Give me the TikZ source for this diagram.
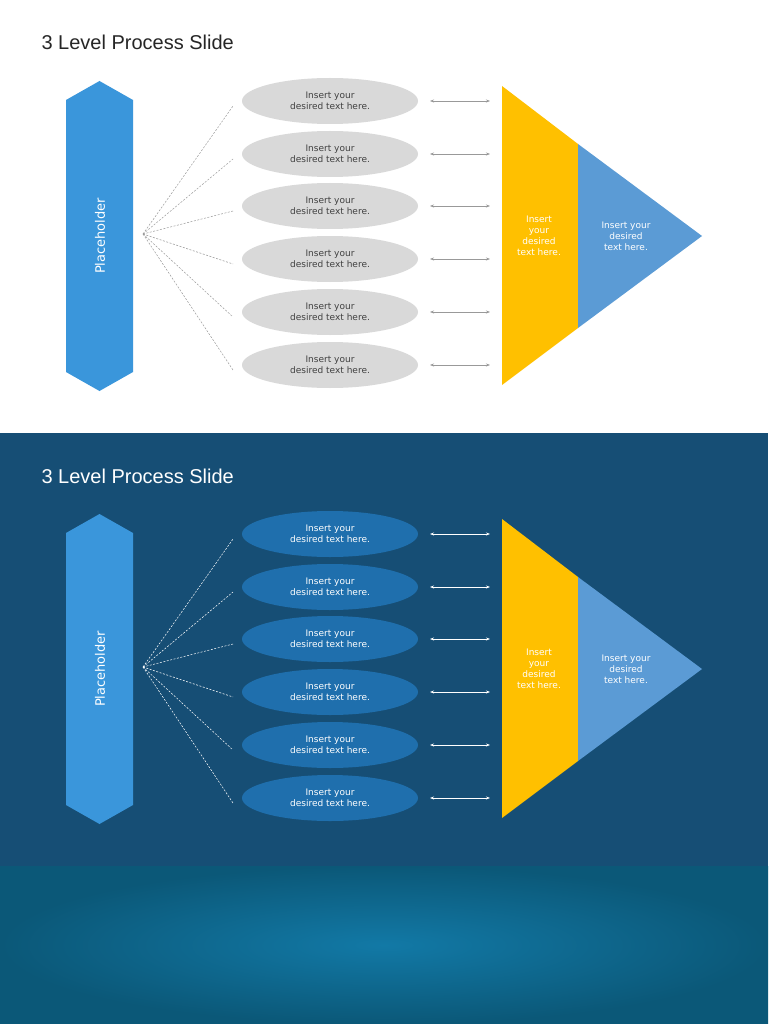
\documentclass[tikz,border=0pt]{standalone}
\usepackage{fontspec}
\setmainfont{DejaVu Sans}
\newfontfamily\titlefont{Liberation Sans}
\usetikzlibrary{arrows.meta,shapes.geometric}
\definecolor{hexblue}{HTML}{3A96DB}
\definecolor{yel}{HTML}{FFC000}
\definecolor{triblue}{HTML}{5B9BD5}
\definecolor{darkbg}{HTML}{164E75}
\definecolor{ellgray}{HTML}{D9D9D9}
\definecolor{elldark}{HTML}{1F6FAD}
\definecolor{gradin}{HTML}{1279A6}
\definecolor{gradout}{HTML}{0B5878}
\tikzset{
  ell/.style={ellipse,minimum width=176pt,minimum height=46pt,inner sep=0pt,align=center,font=\fontsize{9}{11}\selectfont},
  lbl/.style={align=center,text=white,font=\fontsize{9}{11}\selectfont},
  fan/.style={dashed,dash pattern=on 2pt off 1.5pt,line width=0.5pt},
  dbl/.style={{Stealth[length=4pt]}-{Stealth[length=4pt]},line width=0.7pt}
}
\newcommand{\drawslide}[6]{% #1 offset, #2 prefix, #3 ell fill, #4 ell text, #5 line color, #6 title color
  \begin{scope}[yshift=-#1pt]
  \node[anchor=base west,font=\titlefont\fontsize{20}{24}\selectfont,text=#6] (#2title) at (38,50) {3 Level Process Slide};
  \fill[hexblue] (99.5,81) -- (133,100) -- (133,372) -- (99.5,391) -- (66,372) -- (66,100) -- cycle;
  \node[rotate=90,text=white,font=\fontsize{13}{15}\selectfont] (#2ph) at (100,236) {Placeholder};
  \coordinate (#2o) at (143,234);
  \foreach \i/\y in {1/101,2/154,3/206,4/259,5/312,6/365}{
    \node[ell,fill=#3,text=#4] (#2e\i) at (330,\y) {Insert your\\desired text here.};
    \coordinate (#2f\i) at (233,\y+5);
    \draw[fan,#5] (#2o) -- (#2f\i);
    \coordinate (#2a\i) at (430,\y);
    \coordinate (#2b\i) at (490,\y);
    \draw[dbl,#5] (#2a\i) -- (#2b\i);
  }
  \fill[yel] (502,86) -- (578,144) -- (578,328) -- (502,385) -- cycle;
  \fill[triblue] (578,144) -- (702,236) -- (578,328) -- cycle;
  \node[lbl] (#2y) at (539,236) {Insert\\your\\desired\\text here.};
  \node[lbl] (#2t) at (626,236) {Insert your\\desired\\text here.};
  \end{scope}
}
\begin{document}
\begin{tikzpicture}[x=1pt,y=-1pt]
\useasboundingbox (0,0) rectangle (768,1024);
\fill[white] (0,0) rectangle (768,433);
\fill[darkbg] (0,433) rectangle (768,866);
\fill[gradout] (0,866) rectangle (768,1024);
\shade[inner color=gradin,outer color=gradout] (0,866) rectangle (768,1024);
\drawslide{0}{A}{ellgray}{black!75}{black!40}{black!85}
\drawslide{433}{B}{elldark}{white}{white}{white}
\end{tikzpicture}
\end{document}
